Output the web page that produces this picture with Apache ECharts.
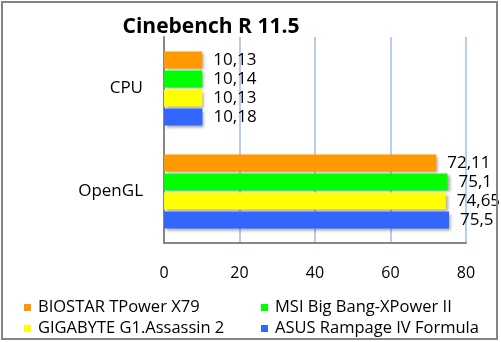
<!DOCTYPE html>
<html><head><meta charset="utf-8">
<script src="https://cdn.jsdelivr.net/npm/echarts@6/dist/echarts.min.js"></script>
<style>html,body{margin:0;padding:0;background:#fff}#c{width:501px;height:342px}</style>
</head><body><div id="c"></div>
<script>
const title = 'Cinebench R 11.5';
const categories = ['CPU', 'OpenGL'];
const seriesNames = ['BIOSTAR TPower X79', 'MSI Big Bang-XPower II', 'GIGABYTE G1.Assassin 2', 'ASUS Rampage IV Formula'];
const biostar = [10.13, 72.11];
const msi = [10.14, 75.1];
const gigabyte = [10.13, 74.65];
const asus = [10.18, 75.5];
const colors = ['#FF9900', '#00FF00', '#FFFF00', '#3366FF'];
const FONT = 'Open Sans';

const values = [biostar, msi, gigabyte, asus];
const legendPos = [[24, 299], [261, 299], [24, 320], [261, 320]];
const chart = echarts.init(document.getElementById('c'), null, {renderer: 'canvas'});
chart.setOption({
  animation: false,
  textStyle: {fontFamily: FONT},
  title: {text: title, left: 206, top: 12, textAlign: 'center',
    textStyle: {fontFamily: FONT, fontSize: 21, fontWeight: 'bold', color: '#000'}},
  graphic: [{type: 'rect', shape: {x: 2, y: 2, width: 495, height: 337},
    style: {fill: 'none', stroke: '#858585', lineWidth: 2}, z: 100}],
  legend: seriesNames.map((n, i) => ({
    data: [n], left: legendPos[i][0], top: legendPos[i][1], padding: 0,
    itemWidth: 7, itemHeight: 7, icon: 'rect',
    textStyle: {fontFamily: FONT, fontSize: 16.5, color: '#000', padding: [0, 0, 0, 2]}
  })),
  grid: {left: 164, right: 35, top: 37, bottom: 99, containLabel: false},
  xAxis: {type: 'value', min: 0, max: 80, interval: 20,
    axisLine: {show: true, lineStyle: {color: '#868686', width: 2}},
    axisTick: {show: false},
    axisLabel: {margin: 22, fontFamily: FONT, fontSize: 16, color: '#000'},
    splitLine: {show: true, lineStyle: {color: '#B8CCEC', width: 2}}},
  yAxis: {type: 'category', data: categories, inverse: true,
    axisLine: {show: true, lineStyle: {color: '#868686', width: 2}},
    axisTick: {show: false},
    axisLabel: {margin: 21, fontFamily: FONT, fontSize: 17, color: '#000'}},
  series: seriesNames.map((n, i) => ({
    name: n, type: 'bar', data: values[i], barWidth: 17, barGap: '12%',
    itemStyle: {color: colors[i], shadowColor: 'rgba(0,0,0,0.35)', shadowBlur: 3, shadowOffsetX: 2, shadowOffsetY: 2},
    label: {show: true, position: 'right', distance: 11, color: '#000', fontFamily: FONT, fontSize: 17,
      formatter: p => String(p.value).replace('.', ',')}
  }))
});
</script></body></html>
